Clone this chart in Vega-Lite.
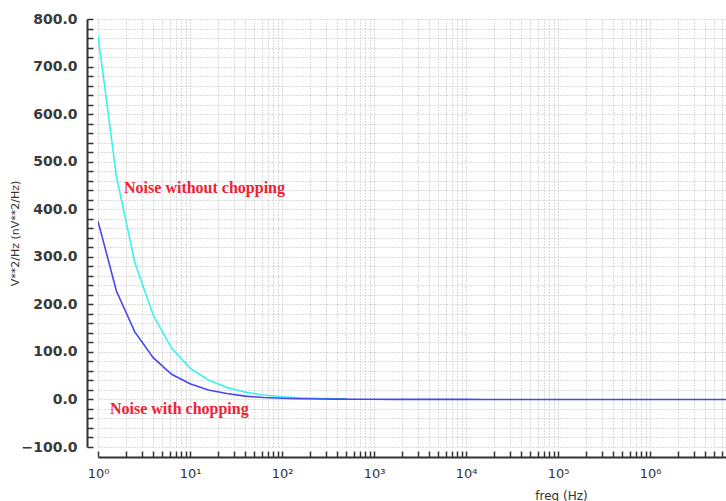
{
  "$schema": "https://vega.github.io/schema/vega-lite/v6.json",
  "width": 628,
  "height": 428,
  "autosize": {"type": "none"},
  "padding": {"left": 98, "top": 19, "right": 0, "bottom": 54},
  "background": "white",
  "config": {
    "view": {"stroke": null},
    "font": "DejaVu Sans"
  },
  "datasets": {
    "curves": [
      {"series": "without", "f": 1, "v": 765},
      {"series": "without", "f": 1.585, "v": 469},
      {"series": "without", "f": 2.512, "v": 288},
      {"series": "without", "f": 3.981, "v": 177},
      {"series": "without", "f": 6.31, "v": 108},
      {"series": "without", "f": 10, "v": 66},
      {"series": "without", "f": 15.85, "v": 41},
      {"series": "without", "f": 25.12, "v": 25},
      {"series": "without", "f": 39.81, "v": 15.4},
      {"series": "without", "f": 63.1, "v": 9.5},
      {"series": "without", "f": 100, "v": 5.8},
      {"series": "without", "f": 158.5, "v": 3.6},
      {"series": "without", "f": 251.2, "v": 2.2},
      {"series": "without", "f": 398.1, "v": 1.3},
      {"series": "without", "f": 510, "v": 1.0},
      {"series": "with", "f": 1, "v": 375},
      {"series": "with", "f": 1.585, "v": 228},
      {"series": "with", "f": 2.512, "v": 142},
      {"series": "with", "f": 3.981, "v": 88},
      {"series": "with", "f": 6.31, "v": 53},
      {"series": "with", "f": 10, "v": 33},
      {"series": "with", "f": 15.85, "v": 20},
      {"series": "with", "f": 25.12, "v": 12.5},
      {"series": "with", "f": 39.81, "v": 7},
      {"series": "with", "f": 63.1, "v": 4},
      {"series": "with", "f": 100, "v": 2.5},
      {"series": "with", "f": 158.5, "v": 1.6},
      {"series": "with", "f": 251.2, "v": 1},
      {"series": "with", "f": 398.1, "v": 0.6},
      {"series": "with", "f": 631, "v": 0.4},
      {"series": "with", "f": 1000, "v": 0.3},
      {"series": "with", "f": 1585, "v": 0.2},
      {"series": "with", "f": 2512, "v": 0.15},
      {"series": "with", "f": 3981, "v": 0.1},
      {"series": "with", "f": 6310, "v": 0.1},
      {"series": "with", "f": 10000, "v": 0.05},
      {"series": "with", "f": 15850, "v": 0},
      {"series": "with", "f": 25120, "v": 0},
      {"series": "with", "f": 39810, "v": 0},
      {"series": "with", "f": 63100, "v": 0},
      {"series": "with", "f": 100000, "v": 0},
      {"series": "with", "f": 158500, "v": 0},
      {"series": "with", "f": 251200, "v": 0},
      {"series": "with", "f": 398100, "v": 0},
      {"series": "with", "f": 631000, "v": 0},
      {"series": "with", "f": 1000000, "v": 0},
      {"series": "with", "f": 1585000, "v": 0},
      {"series": "with", "f": 2512000, "v": 0},
      {"series": "with", "f": 3981000, "v": 0},
      {"series": "with", "f": 6310000, "v": 0},
      {"series": "with", "f": 10000000, "v": 0}
    ],
    "labels": [
      {"f": 1.92, "v": 444, "label": "Noise without chopping"},
      {"f": 1.35, "v": -20, "label": "Noise with chopping"}
    ]
  },
  "layer": [
    {
      "data": {"name": "curves"},
      "mark": {"type": "line", "strokeWidth": 1.6, "clip": true},
      "encoding": {
        "x": {
          "field": "f",
          "type": "quantitative",
          "scale": {"type": "log", "domain": [1, 6700000], "nice": false},
          "axis": {
            "title": "freq (Hz)",
            "titleFont": "DejaVu Sans",
            "titleFontSize": 12,
            "titleFontWeight": "normal",
            "titleColor": "#333333",
            "titleX": 463,
            "titleY": 38,
            "titleBaseline": "middle",
            "offset": 10,
            "tickCount": 500,
            "values": [1,2,3,4,5,6,7,8,9,10,20,30,40,50,60,70,80,90,100,200,300,400,500,600,700,800,900,1000,2000,3000,4000,5000,6000,7000,8000,9000,10000,20000,30000,40000,50000,60000,70000,80000,90000,100000,200000,300000,400000,500000,600000,700000,800000,900000,1000000,2000000,3000000,4000000,5000000,6000000],
            "labelExpr": "abs(log(datum.value)/LN10 - round(log(datum.value)/LN10)) < 1e-6 ? '10' + ['⁰','¹','²','³','⁴','⁵','⁶','⁷'][round(log(datum.value)/LN10)] : ''",
            "labelFont": "DejaVu Sans",
            "labelFontSize": 13,
            "labelColor": "#333333",
            "labelPadding": 16,
            "labelFlush": false,
            "labelOverlap": false,
            "domainColor": "#333333",
            "domainWidth": 2,
            "tickColor": "#333333",
            "tickSize": -6,
            "tickWidth": 1.5,
            "grid": true,
            "gridColor": "#b8b8b8",
            "gridDash": [1, 2],
            "gridWidth": 1
          }
        },
        "y": {
          "field": "v",
          "type": "quantitative",
          "scale": {"domain": [-100, 800], "nice": false},
          "axis": {
            "title": "V**2/Hz (nV**2/Hz)",
            "titleFont": "DejaVu Sans",
            "titleFontSize": 11,
            "titleFontWeight": "normal",
            "titleColor": "#333333",
            "titleX": -67,
            "offset": 11,
            "tickCount": 500,
            "values": [-100,-80,-60,-40,-20,0,20,40,60,80,100,120,140,160,180,200,220,240,260,280,300,320,340,360,380,400,420,440,460,480,500,520,540,560,580,600,620,640,660,680,700,720,740,760,780,800],
            "labelExpr": "datum.value % 100 == 0 ? format(datum.value, '.1f') : ''",
            "labelFont": "DejaVu Sans",
            "labelFontSize": 14,
            "labelFontWeight": "bold",
            "labelColor": "#3a3a3a",
            "labelPadding": 16,
            "labelOverlap": false,
            "domainColor": "#333333",
            "domainWidth": 2,
            "tickColor": "#333333",
            "tickSize": -6,
            "tickWidth": 1.5,
            "grid": true,
            "gridColor": "#b8b8b8",
            "gridDash": [1, 2],
            "gridWidth": 1
          }
        },
        "color": {
          "field": "series",
          "type": "nominal",
          "scale": {"domain": ["without", "with"], "range": ["#3af2f2", "#4646f5"]},
          "legend": null
        },
        "order": {"field": "f", "type": "quantitative"}
      }
    },
    {
      "data": {"name": "labels"},
      "mark": {
        "type": "text",
        "align": "left",
        "baseline": "middle",
        "font": "Liberation Serif",
        "fontWeight": "bold",
        "fontSize": 16,
        "color": "#ee2233"
      },
      "encoding": {
        "x": {"field": "f", "type": "quantitative"},
        "y": {"field": "v", "type": "quantitative"},
        "text": {"field": "label", "type": "nominal"}
      }
    }
  ]
}
